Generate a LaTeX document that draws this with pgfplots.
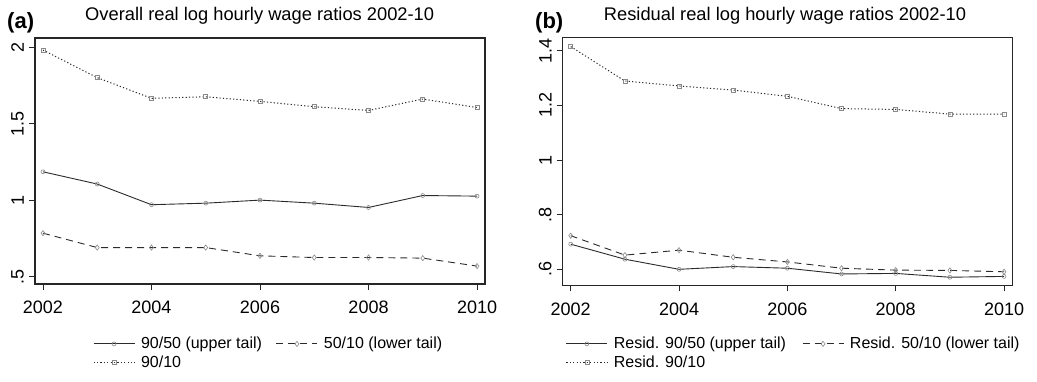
\documentclass[border=0pt]{standalone}
\usepackage{fontspec}
\setmainfont{Liberation Sans}
\usepackage{pgfplots}
\pgfplotsset{compat=1.18}

\definecolor{lineblk}{HTML}{2B2B2B}
\definecolor{markgray}{HTML}{8A8A8A}

\pgfplotsset{
  wagepanel/.style={
    scale only axis,
    width=450pt,
    axis line style={line width=1.1pt, color=black!85},
    every tick/.style={line width=0.9pt, color=black!85},
    tick align=outside,
    major tick length=6pt,
    xtick pos=left, ytick pos=left,
    xtick={2002,2004,2006,2008,2010},
    xticklabels={2002,2004,2006,2008,2010},
    xticklabel style={font=\fontsize{18}{18}\selectfont, inner sep=0pt, yshift=-11pt},
    yticklabel style={font=\fontsize{18}{18}\selectfont, rotate=90, anchor=south, inner sep=0pt, yshift=5pt},
    legend columns=2,
    legend cell align=left,
    legend image code/.code={
      \draw[##1, mark repeat=2, mark phase=2]
        plot coordinates {(0pt,0pt) (20.5pt,0pt) (41pt,0pt)};
    },
    legend style={draw=none, fill=none, inner sep=0pt, outer sep=0pt,
      font=\fontsize{16}{19}\selectfont, anchor=north west,
      nodes={inner sep=1pt}, row sep=3.5pt,
      /tikz/every odd column/.append style={column sep=5pt},
      /tikz/every even column/.append style={column sep=13pt}},
    upper/.style={lineblk, line width=0.9pt, mark=o, mark size=2pt,
      mark options={solid, draw=markgray, line width=0.6pt}},
    lower/.style={lineblk, line width=0.9pt, dash pattern=on 7pt off 5pt,
      mark=diamond, mark size=2.6pt,
      mark options={solid, draw=markgray, line width=0.6pt}},
    ninety/.style={lineblk, line width=1pt, dash pattern=on 1.2pt off 2.2pt,
      mark=square, mark size=2pt,
      mark options={solid, draw=markgray, line width=0.6pt}},
  }
}

\begin{document}
\begin{tikzpicture}
\path[use as bounding box] (0pt,0pt) rectangle (1037pt,381pt);

% Panel (a): overall log hourly wage ratios
\begin{axis}[wagepanel,
  at={(35pt,97pt)}, anchor=south west,
  height=246pt,
  xmin=2001.853, xmax=2010.147,
  ymin=0.452, ymax=2.059,
  ytick={0.5,1,1.5,2},
  yticklabels={.5,1,1.5,2},
  legend style={at={(0.129,-0.213)}},
]
\addplot[upper] coordinates {
  (2002,1.185) (2003,1.105) (2004,0.970) (2005,0.980) (2006,1.000)
  (2007,0.980) (2008,0.952) (2009,1.030) (2010,1.026)};
\addlegendentry{90/50 (upper tail)}
\addplot[lower] coordinates {
  (2002,0.784) (2003,0.690) (2004,0.690) (2005,0.690) (2006,0.636)
  (2007,0.625) (2008,0.625) (2009,0.621) (2010,0.569)};
\addlegendentry{50/10 (lower tail)}
\addplot[ninety] coordinates {
  (2002,1.980) (2003,1.800) (2004,1.665) (2005,1.675) (2006,1.645)
  (2007,1.610) (2008,1.586) (2009,1.660) (2010,1.605)};
\addlegendentry{90/10}
\end{axis}

% Panel (b): residual log hourly wage ratios
\begin{axis}[wagepanel,
  at={(562.7pt,95.7pt)}, anchor=south west,
  height=247.6pt,
  xmin=2001.852, xmax=2010.16,
  ymin=0.5415, ymax=1.4475,
  ytick={0.6,0.8,1,1.2,1.4},
  yticklabels={.6,.8,1,1.2,1.4},
  legend style={at={(0.007,-0.206)},
    /tikz/every even column/.append style={column sep=15pt}},
]
\addplot[upper] coordinates {
  (2002,0.692) (2003,0.637) (2004,0.600) (2005,0.610) (2006,0.604)
  (2007,0.583) (2008,0.585) (2009,0.571) (2010,0.574)};
\addlegendentry{Resid. 90/50 (upper tail)}
\addplot[lower] coordinates {
  (2002,0.723) (2003,0.652) (2004,0.670) (2005,0.644) (2006,0.627)
  (2007,0.604) (2008,0.597) (2009,0.596) (2010,0.591)};
\addlegendentry{Resid. 50/10 (lower tail)}
\addplot[ninety] coordinates {
  (2002,1.415) (2003,1.289) (2004,1.271) (2005,1.256) (2006,1.233)
  (2007,1.188) (2008,1.185) (2009,1.168) (2010,1.168)};
\addlegendentry{Resid. 90/10}
\end{axis}

% Panel titles
\node[anchor=base west, font=\bfseries\fontsize{22}{22}\selectfont, inner sep=0pt]
  at (7pt,352pt) {(a)};
\node[anchor=base, font=\fontsize{18.3}{18.3}\selectfont, inner sep=0pt]
  at (259.7pt,360.3pt) {Overall real log hourly wage ratios 2002-10};
\node[anchor=base west, font=\bfseries\fontsize{22}{22}\selectfont, inner sep=0pt]
  at (535pt,352pt) {(b)};
\node[anchor=base, font=\fontsize{18.3}{18.3}\selectfont, inner sep=0pt]
  at (785pt,360.3pt) {Residual real log hourly wage ratios 2002-10};
\end{tikzpicture}
\end{document}
